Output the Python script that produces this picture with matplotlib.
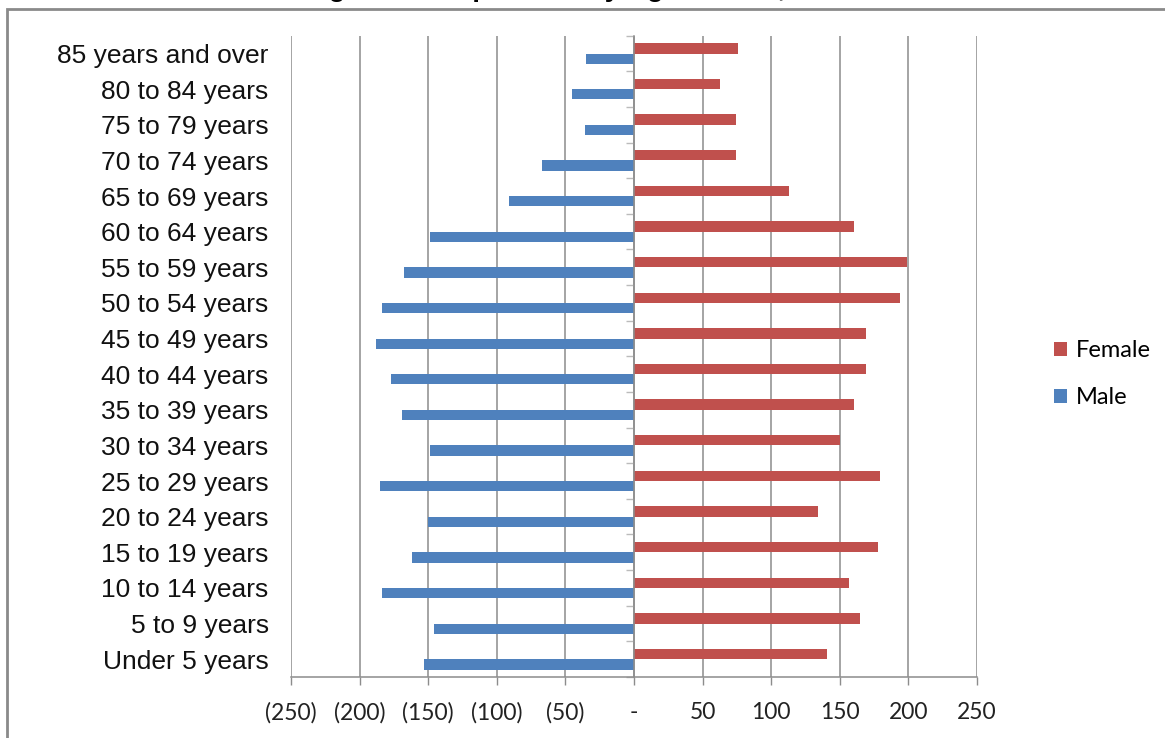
import matplotlib
matplotlib.use("Agg")
import matplotlib.pyplot as plt
from matplotlib.patches import Rectangle
import numpy as np

categories = ["Under 5 years", "5 to 9 years", "10 to 14 years", "15 to 19 years",
              "20 to 24 years", "25 to 29 years", "30 to 34 years", "35 to 39 years",
              "40 to 44 years", "45 to 49 years", "50 to 54 years", "55 to 59 years",
              "60 to 64 years", "65 to 69 years", "70 to 74 years", "75 to 79 years",
              "80 to 84 years", "85 years and over"]
female = [141, 165, 157, 178, 134, 179, 150, 160, 169, 169, 194, 199, 160, 113, 74, 74, 63, 76]
male = [153, 146, 184, 162, 150, 185, 149, 169, 177, 188, 184, 168, 149, 91, 67, 36, 45, 35]
xticks = [-250, -200, -150, -100, -50, 0, 50, 100, 150, 200, 250]
xtick_labels = ["(250)", "(200)", "(150)", "(100)", "(50)", "-", "50", "100", "150", "200", "250"]
title = "Figure 3 - Population by Age Cohort, 2010"

W, H = 1165, 738
fig = plt.figure(figsize=(W / 100, H / 100), dpi=100)
fig.patch.set_facecolor("white")

# outer chart frame
fig.patches.append(Rectangle((7 / W, -0.05), 1.2, 1 - 9 / H + 0.05, transform=fig.transFigure,
                             fill=False, edgecolor="#8a8a8a", linewidth=2, zorder=0))

ax = fig.add_axes([291 / W, 1 - 677 / H, (977 - 291) / W, (677 - 35.7) / H])

y = np.arange(len(categories))
grid_c = "#8c8c8c"
ax.barh(y + 0.145, female, height=0.29, color="#C0504D", label="Female", zorder=3)
ax.barh(y - 0.145, [-v for v in male], height=0.29, color="#4F81BD", label="Male", zorder=3)

ax.set_xlim(-250, 250)
ax.set_ylim(-0.5, len(categories) - 0.5)
ax.set_xticks(xticks)
ax.set_xticklabels(xtick_labels, fontfamily="Lato", fontsize=16.5, color="#222222")
ax.xaxis.grid(True, color=grid_c, linewidth=1.1, zorder=0)
ax.tick_params(axis="x", direction="out", length=6, width=1, color=grid_c, pad=12)

for s in ["top", "right"]:
    ax.spines[s].set_visible(False)
ax.spines["bottom"].set_color(grid_c)
ax.spines["bottom"].set_linewidth(1.1)
ax.spines["left"].set_position(("data", 0))
ax.spines["left"].set_color(grid_c)
ax.spines["left"].set_linewidth(1.1)
ax.spines["left"].set_zorder(4)

ax.set_yticks(y)
ax.set_yticklabels(categories, fontfamily="Liberation Sans", fontsize=19, color="#111111")
ax.set_yticks(np.arange(len(categories) + 1) - 0.5, minor=True)
ax.tick_params(axis="y", which="major", length=0, pad=263)
ax.tick_params(axis="y", which="minor", direction="out", length=6, width=1, color="#bbbbbb")

leg = fig.legend(handles=[ax.containers[0], ax.containers[1]], labels=["Female", "Male"],
                 loc="center left", bbox_to_anchor=(1045 / W, 1 - 374 / H),
                 frameon=False, prop={"family": "Lato", "size": 17},
                 handlelength=0.55, handleheight=0.55, handletextpad=0.35, labelspacing=1.1,
                 borderaxespad=0)

fig.text(580 / W, 1 + 4 / H, title, ha="center", va="baseline",
         fontfamily="Liberation Sans", fontweight="bold", fontsize=20)

fig.savefig("out.png", dpi=100, facecolor="white")
